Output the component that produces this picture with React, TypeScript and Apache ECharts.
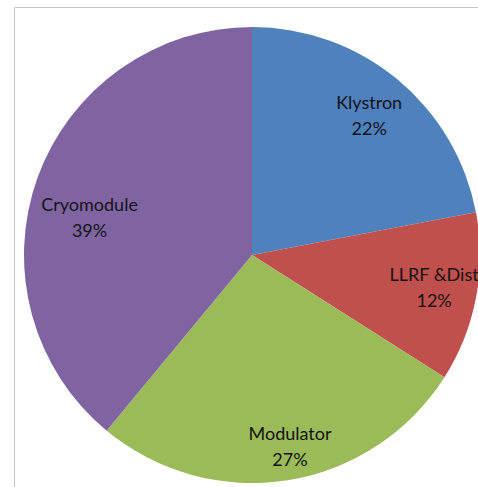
import React, { useEffect, useRef } from "react";
import * as echarts from "echarts";

const categories = ["Klystron", "LLRF &Dist", "Modulator", "Cryomodule"];
const values = [22, 12, 27, 39];
const colors = ["#4F81BD", "#C0504D", "#9BBB59", "#8064A2"];
// small label nudges (style) to match the original label placement
const labelOffsets = [
  [-1, 3],
  [0, -3],
  [9, 8],
  [12, 25],
];

export default function App() {
  const ref = useRef<HTMLDivElement>(null);
  useEffect(() => {
    const chart = echarts.init(ref.current!, null, { renderer: "svg" });
    const data = categories.map((name, i) => ({
      name,
      value: values[i],
      itemStyle: { color: colors[i] },
    }));
    const center = [252, 255];
    const R = 228;
    chart.setOption({
      animation: false,
      backgroundColor: "#ffffff",
      graphic: [
        {
          type: "rect",
          shape: { x: 14.5, y: 7.5, width: 600, height: 600 },
          style: { fill: "none", stroke: "#c4c4c4", lineWidth: 1 },
          silent: true,
        },
      ],
      series: [
        {
          type: "pie",
          center,
          radius: [0, R],
          startAngle: 90,
          clockwise: true,
          label: { show: false },
          labelLine: { show: false },
          itemStyle: { borderWidth: 0 },
          data,
        },
        {
          type: "pie",
          center,
          radius: [R * 0.6, R],
          startAngle: 90,
          clockwise: true,
          silent: true,
          itemStyle: { color: "rgba(0,0,0,0)", borderWidth: 0 },
          labelLine: { show: false },
          label: {
            show: true,
            position: "inside",
            color: "#141414",
            fontFamily: "Lato",
            fontSize: 18,
            lineHeight: 26,
            formatter: (p: any) => `${p.name}\n${Math.round(p.percent)}%`,
          },
          data: categories.map((name, i) => ({
            name,
            value: values[i],
            label: { offset: labelOffsets[i] },
          })),
        },
      ],
    });
    return () => chart.dispose();
  }, []);
  return (
    <div
      ref={ref}
      style={{ position: "fixed", left: 0, top: 0, width: 478, height: 487 }}
    />
  );
}
